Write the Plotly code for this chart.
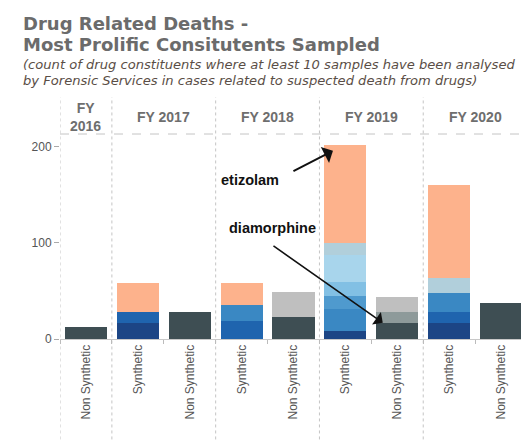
import plotly.graph_objects as go

# ---- data ----
fy_labels = ["FY<br>2016", "FY 2017", "FY 2018", "FY 2019", "FY 2020"]
categories = ["Non Synthetic", "Synthetic", "Non Synthetic", "Synthetic", "Non Synthetic",
              "Synthetic", "Non Synthetic", "Synthetic", "Non Synthetic"]
category_fy = [0, 1, 1, 2, 2, 3, 3, 4, 4]

# stacked series, bottom to top (values per category)
diamorphine = [13, 0, 28, 0, 23, 0, 17, 0, 37]
nonsyn_b = [0, 0, 0, 0, 0, 0, 11, 0, 0]
nonsyn_c = [0, 0, 0, 0, 26, 0, 16, 0, 0]
syn_a = [0, 17, 0, 0, 0, 8, 0, 17, 0]
syn_b = [0, 11, 0, 19, 0, 0, 0, 11, 0]
syn_c = [0, 0, 0, 16, 0, 23, 0, 20, 0]
syn_d = [0, 0, 0, 0, 0, 14, 0, 0, 0]
syn_e = [0, 0, 0, 0, 0, 14, 0, 0, 0]
syn_f = [0, 0, 0, 0, 0, 28, 0, 0, 0]
syn_g = [0, 0, 0, 0, 0, 13, 0, 16, 0]
etizolam = [0, 30, 0, 23, 0, 102, 0, 96, 0]

series = [
    ("diamorphine", diamorphine, "#3e4e53"),
    ("non synthetic b", nonsyn_b, "#8e9a9a"),
    ("non synthetic c", nonsyn_c, "#bfbfbf"),
    ("synthetic a", syn_a, "#1c4585"),
    ("synthetic b", syn_b, "#1f64ae"),
    ("synthetic c", syn_c, "#3a88c3"),
    ("synthetic d", syn_d, "#4f9ace"),
    ("synthetic e", syn_e, "#82c0e4"),
    ("synthetic f", syn_f, "#a8d5ec"),
    ("synthetic g", syn_g, "#b1cfdb"),
    ("etizolam", etizolam, "#fdb28c"),
]

x_idx = list(range(len(categories)))

fig = go.Figure()
for name, vals, col in series:
    fig.add_trace(go.Bar(x=x_idx, y=vals, name=name, marker_color=col,
                         marker_line_width=0, showlegend=False))

AX_FONT = "Liberation Sans, Arial, sans-serif"
TITLE_FONT = "DejaVu Sans, sans-serif"
GRID = "#c4c4c4"

# dotted column separators (group boundaries)
bounds = [-0.5]
for i in range(1, len(category_fy)):
    if category_fy[i] != category_fy[i - 1]:
        bounds.append(i - 0.5)
bounds.append(len(categories) - 0.5)

shapes = []
for b in bounds:
    shapes.append(dict(type="line", xref="x", yref="paper", x0=b, x1=b, y0=-0.49, y1=1.18,
                       line=dict(color=GRID, width=1, dash="dot"), layer="below"))
shapes.append(dict(type="line", xref="x", yref="paper", x0=-0.5, x1=len(categories) - 0.5,
                   y0=1.0, y1=1.0, line=dict(color=GRID, width=1, dash="dash")))
shapes.append(dict(type="line", xref="paper", yref="paper", x0=-0.118, x1=-0.118, y0=-0.45, y1=1.65,
                   line=dict(color="#d6d6d6", width=1, dash="dot")))

annotations = []
# FY headers
for k, lab in enumerate(fy_labels):
    idx = [i for i, f in enumerate(category_fy) if f == k]
    annotations.append(dict(x=sum(idx) / len(idx), y=1.083, xref="x", yref="paper",
                            text="<b>" + lab + "</b>", showarrow=False,
                            font=dict(family=AX_FONT, size=14, color="#6e6e6e"),
                            yanchor="middle", align="center"))

# titles (base font sets line spacing, span sets glyph size)
annotations.append(dict(x=-0.083, y=1.49, xref="paper", yref="paper", xanchor="left", yanchor="middle",
                        align="left",
                        text="<span style='font-size:18px'><b>Drug Related Deaths -</b></span><br>"
                             "<span style='font-size:18px'><b>Most Prolific Consitutents Sampled</b></span>",
                        showarrow=False,
                        font=dict(family=TITLE_FONT, size=16.2, color="#6b6b6b")))
annotations.append(dict(x=-0.083, y=1.2976, xref="paper", yref="paper", xanchor="left", yanchor="middle",
                        align="left",
                        text="<span style='font-size:13.1px'><i>(count of drug constituents where at least 10 samples have been analysed</i></span><br>"
                             "<span style='font-size:13.1px'><i>by Forensic Services in cases related to suspected death from drugs)</i></span>",
                        showarrow=False,
                        font=dict(family=TITLE_FONT, size=12.3, color="#5a4e46")))

# callout labels
annotations.append(dict(x=3.16, y=166, xref="x", yref="y", text="<b>etizolam</b>", showarrow=False,
                        font=dict(family=AX_FONT, size=14.5, color="#111")))
annotations.append(dict(x=3.6, y=116, xref="x", yref="y", text="<b>diamorphine</b>", showarrow=False,
                        font=dict(family=AX_FONT, size=14.5, color="#111")))
# callout arrows
tot_2019 = sum(s[1][5] for s in series)
annotations.append(dict(x=4.76, y=tot_2019 - 6, ax=3.97, ay=174, xref="x", yref="y", axref="x", ayref="y",
                        text="", showarrow=True, arrowhead=1, arrowsize=1.5, arrowwidth=2,
                        arrowcolor="#111", standoff=0))
annotations.append(dict(x=5.72, y=diamorphine[6], ax=3.585, ay=98, xref="x", yref="y", axref="x", ayref="y",
                        text="", showarrow=True, arrowhead=1, arrowsize=1.6, arrowwidth=1.6,
                        arrowcolor="#111", standoff=0))

# page body has an 8px margin, so margins are offset by 8px
fig.update_layout(
    width=529, height=446,
    margin=dict(l=52, r=10, t=126, b=115),
    paper_bgcolor="white", plot_bgcolor="white",
    barmode="stack", bargap=0.19,
    shapes=shapes, annotations=annotations,
    font=dict(family=AX_FONT),
    xaxis=dict(range=[-0.5, len(categories) - 0.5], tickmode="array", tickvals=x_idx, ticktext=categories,
               tickangle=-90, ticks="", showgrid=False, zeroline=False,
               showline=True, linecolor="#c8c8c8", linewidth=1,
               minor=dict(ticks="outside", tick0=0.5, dtick=1, ticklen=4, tickcolor="#bbbbbb"),
               tickfont=dict(family=AX_FONT, size=12, color="#555555")),
    yaxis=dict(range=[0, 213.5], tickmode="array", tickvals=[0, 100, 200],
               ticks="outside", ticklen=5, tickcolor="#aaaaaa", showgrid=False, zeroline=False,
               showline=False, tickfont=dict(family=AX_FONT, size=12, color="#555555")),
)

fig.write_html("out.html")
